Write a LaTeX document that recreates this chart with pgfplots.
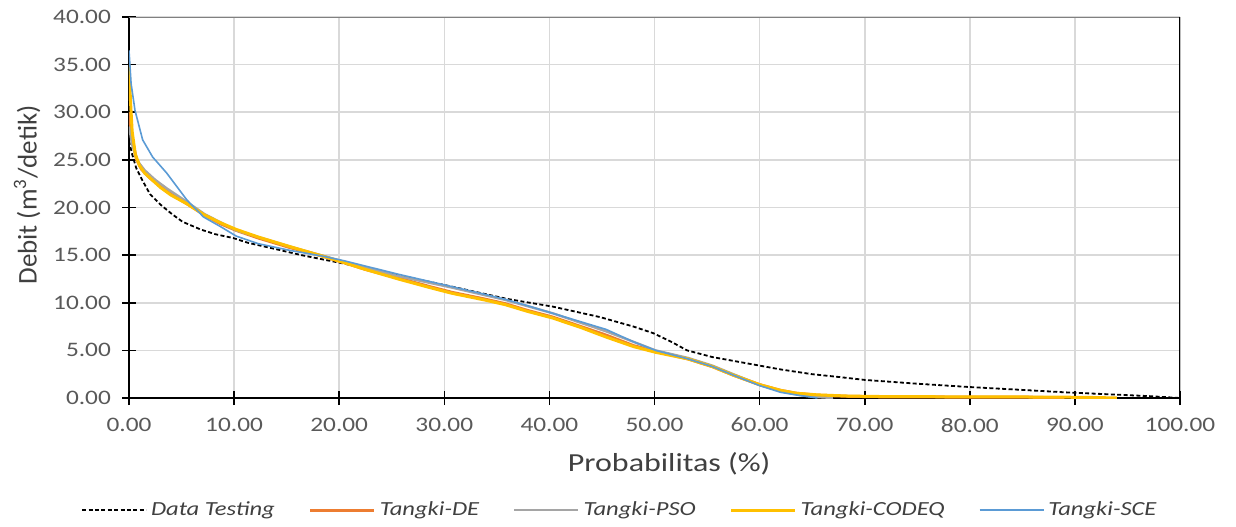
\documentclass[border=0pt]{standalone}
\usepackage{fontspec}
\setmainfont{Carlito}
\newfontfamily\wfont[FakeStretch=1.23]{Carlito}
\usepackage{pgfplots}
\pgfplotsset{compat=1.18}
\definecolor{cDE}{HTML}{ED7D31}
\definecolor{cPSO}{HTML}{A5A5A5}
\definecolor{cCODEQ}{HTML}{FFC000}
\definecolor{cSCE}{HTML}{5B9BD5}
\definecolor{gridc}{HTML}{D9D9D9}
\definecolor{tickc}{HTML}{595959}
\definecolor{labc}{HTML}{404040}
\begin{document}
\begin{tikzpicture}
\begin{axis}[
  scale only axis, width=525.5pt, height=190.5pt,
  xmin=0, xmax=100, ymin=0, ymax=40,
  xtick distance=10, ytick distance=5,
  scaled ticks=false,
  grid=major, major grid style={draw=gridc, line width=0.8pt},
  axis x line*=bottom, axis y line*=left,
  axis line style={line width=0.9pt, black},
  tick align=center, major tick length=7pt,
  every tick/.style={black, line width=0.8pt},
  ticklabel style={font=\wfont\fontsize{10.3}{12}\selectfont, text=tickc,
    /pgf/number format/fixed, /pgf/number format/fixed zerofill,
    /pgf/number format/precision=2, /pgf/number format/assume math mode=true},
  xticklabel style={yshift=-3pt},
  yticklabel style={xshift=-2pt},
  xlabel={Probabilitas (\%)},
  every axis x label/.style={at={(rel axis cs:0.514,-0.173)}, anchor=center,
    font=\wfont\fontsize{13}{15}\selectfont, text=labc},
  ylabel={Debit (m\textsuperscript{3}/detik)},
  every axis y label/.style={at={(rel axis cs:-0.097,0.533)}, anchor=center, rotate=90,
    font=\fontsize{13.5}{16}\selectfont, text=labc},
  legend columns=5,
  legend style={at={(rel axis cs:0.468,-0.294)}, anchor=center, draw=none, fill=none,
    font=\wfont\itshape\fontsize{10}{12}\selectfont, text=labc,
    /tikz/every even column/.append style={column sep=15pt}},
  legend cell align=left,
  legend image code/.code={\draw[#1] (0pt,0pt) -- (32pt,0pt);},
]
\addplot[black, line width=0.9pt, dash pattern=on 2pt off 1.2pt] coordinates {
(0,27.0)(0.3,25.6)(0.7,24.1)(1.3,22.8)(2.0,21.4)(3.0,20.3)(4.1,19.3)(5.1,18.5)(6.8,17.7)(8.2,17.2)(9.9,16.8)(11.3,16.3)(13.7,15.7)(16.4,15.0)(20.5,14.1)(25.6,12.9)(30.7,11.7)(36,10.4)(40.3,9.6)(44.8,8.5)(48,7.5)(49.9,6.8)(51.6,5.9)(53.1,5.0)(55.5,4.3)(58,3.8)(60,3.4)(62,3.0)(65,2.5)(67.6,2.2)(70,1.9)(75,1.5)(80,1.15)(85,0.85)(89,0.6)(93,0.4)(97,0.2)(100,0)};
\addlegendentry{Data Testing}
\addplot[cDE, line width=1.5pt] coordinates {
(0,30)(0.3,27.2)(0.7,25.1)(1.2,24.0)(2,23.1)(3,22.2)(4,21.4)(5.5,20.4)(7.2,19.2)(8.7,18.3)(10.2,17.6)(12.3,16.8)(15.3,15.8)(18.4,14.9)(20.5,14.2)(22.5,13.5)(25.6,12.6)(28.6,11.7)(30.7,11.1)(33.8,10.4)(35.8,9.9)(37.9,9.2)(40.3,8.5)(43,7.5)(45.4,6.6)(48,5.5)(50.1,4.9)(53.2,4.1)(55.5,3.3)(57.5,2.4)(60,1.4)(62,0.8)(63.5,0.5)(65.5,0.3)(68.5,0.18)(72,0.12)(80,0.1)(86,0.08)(89,0)};
\addlegendentry{Tangki-DE}
\addplot[cPSO, line width=1.2pt] coordinates {
(0,28.5)(0.3,26.6)(0.8,24.9)(1.5,23.9)(2.5,22.9)(3.6,22.0)(5.1,20.9)(7.2,19.3)(10.2,17.6)(15.3,15.9)(20.5,14.3)(25.6,12.8)(30.7,11.6)(35.8,10.3)(40.3,8.9)(45.4,7.0)(48,5.9)(50.1,5.0)(53.2,4.2)(55.5,3.4)(57.5,2.5)(60,1.4)(62,0.7)(63.9,0.3)(65.5,0.1)(67,0)};
\addlegendentry{Tangki-PSO}
\addplot[cCODEQ, line width=1.5pt] coordinates {
(0,35)(0.15,31)(0.3,28)(0.6,25.6)(1.0,24.4)(1.5,23.6)(2.2,22.9)(3,22.1)(4,21.3)(5.5,20.4)(7.2,19.2)(8.7,18.4)(10.2,17.7)(12.3,16.9)(15.3,15.9)(18.4,14.9)(20.5,14.2)(22.5,13.5)(25.6,12.5)(28.6,11.6)(30.7,11.0)(33.8,10.3)(35.8,9.8)(37.9,9.1)(40.3,8.4)(43,7.4)(45.4,6.4)(48,5.4)(50.1,4.8)(53.2,4.1)(55.5,3.3)(57.5,2.4)(60,1.4)(62,0.8)(63.5,0.5)(65.5,0.33)(68.5,0.2)(72,0.15)(80,0.12)(88,0.1)(92,0.05)(94,0)};
\addlegendentry{Tangki-CODEQ}
\addplot[cSCE, line width=0.8pt] coordinates {
(0,36.5)(0.2,33)(0.57,30.2)(1.3,27.1)(2.25,25.3)(3.6,23.6)(5.5,20.8)(7.1,19.0)(8.7,18.0)(10.2,17.0)(12.3,16.2)(15.3,15.5)(18.4,14.9)(20.5,14.4)(25.6,13.0)(30.3,11.8)(33.8,10.9)(36,10.3)(37.9,9.7)(40.3,8.9)(43,8.0)(45.4,7.2)(48,5.9)(50.1,5.0)(53.2,4.1)(55.5,3.3)(57.5,2.4)(60,1.3)(62,0.6)(63.9,0.25)(65.5,0)};
\addlegendentry{Tangki-SCE}
\draw[color=gray, line width=0.8pt] (rel axis cs:0,1) -- (rel axis cs:1,1);
\draw[black, line width=0.9pt] (rel axis cs:1,0) -- (rel axis cs:1,1);
\coordinate (O) at (rel axis cs:0,0);
\end{axis}
\pgfresetboundingbox
\path (O) ++(-64.5pt,-64pt) rectangle ++(618pt,263pt);
\end{tikzpicture}
\end{document}
